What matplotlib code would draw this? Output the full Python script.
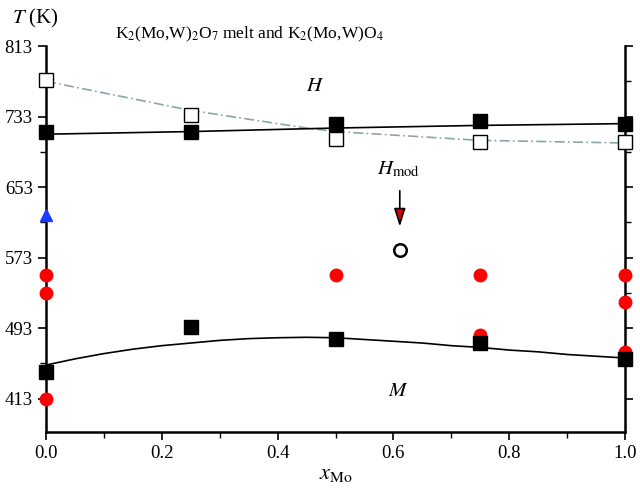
import matplotlib
matplotlib.use("Agg")
import matplotlib.pyplot as plt
from matplotlib.ticker import MultipleLocator, FixedLocator, FormatStrFormatter

plt.rcParams['font.family'] = ['Liberation Serif', 'DejaVu Serif']
plt.rcParams['mathtext.fontset'] = 'stix'

# Data (T in K vs x_Mo)
x_sq = [0.0, 0.25, 0.5, 0.75, 1.0]
H_filled = [715, 715, 725, 728, 725]
H_open = [774, 735, 708, 704, 704]
hline_x = [0.0, 0.25, 0.5, 0.75, 1.0]
hline_T = [713, 716, 720, 723, 725]
dash_x = [0.0, 0.25, 0.45, 0.5, 0.75, 1.0]
dash_T = [773, 740, 720, 716, 706, 703]
M_x = [0.0, 0.25, 0.5, 0.75, 1.0]
M_filled = [443, 494, 480, 476, 458]
low_x = [0.0, 0.05, 0.1, 0.15, 0.2, 0.25, 0.3, 0.35, 0.4, 0.45, 0.5, 0.55, 0.6,
         0.65, 0.7, 0.75, 0.8, 0.85, 0.9, 0.95, 1.0]
low_T = [451, 458, 464, 469, 473, 476, 479, 481, 482, 482.5, 482, 480, 478,
         476, 473, 471, 468, 466, 463, 461, 459]
red_x = [0.0, 0.0, 0.0, 0.5, 0.75, 0.75, 1.0, 1.0, 1.0]
red_T = [553, 533, 413, 553, 553, 485, 553, 523, 466]
blue_x = [0.0]
blue_T = [621]
open_circ_x = [0.611]
open_circ_T = [582]
arrow_x = 0.611
arrow_T = [652, 605]
xticks = [0.0, 0.2, 0.4, 0.6, 0.8, 1.0]
yticks = [413, 493, 573, 653, 733, 813]

fig = plt.figure(figsize=(6.4, 5.01), dpi=100)
ax = fig.add_axes([0.0719, 0.1377, 0.9047, 0.7703])

ax.plot(dash_x, dash_T, linestyle=(0, (6, 2, 1, 2)), color='#8aa5a5', lw=1.2, zorder=2)
ax.plot(hline_x, hline_T, color='black', lw=1.2, zorder=2)
ax.plot(low_x, low_T, color='black', lw=1.2, zorder=2)

ax.plot(x_sq, H_open, 's', ms=10, mfc='white', mec='black', mew=1.0, clip_on=False, zorder=4)
ax.plot(x_sq, H_filled, 's', ms=10, color='black', clip_on=False, zorder=4)
ax.plot(red_x, red_T, 'o', ms=9, color='#ff0000', clip_on=False, zorder=3)
ax.plot(M_x, M_filled, 's', ms=10, color='black', clip_on=False, zorder=4)
ax.plot(blue_x, blue_T, '^', ms=9, color='#1a3cff', clip_on=False, zorder=4)
ax.plot(open_circ_x, open_circ_T, 'o', ms=9, mfc='white', mec='black', mew=1.8, zorder=4)

ax.annotate('', xy=(arrow_x, arrow_T[1]), xytext=(arrow_x, arrow_T[0]),
            arrowprops=dict(arrowstyle='-|>,head_length=1.1,head_width=0.35',
                            color='black', fc='#d40000', lw=1.2))

ax.text(0.465, 767, r'$H$', fontsize=15, ha='center', va='center')
ax.text(0.608, 673, r'$H_{\mathrm{mod}}$', fontsize=15, ha='center', va='center')
ax.text(0.608, 421, r'$M$', fontsize=15, ha='center', va='center')

ax.set_xlim(0, 1)
ax.set_ylim(375, 813)
ax.xaxis.set_major_locator(FixedLocator(xticks))
ax.xaxis.set_minor_locator(MultipleLocator(0.1))
ax.xaxis.set_major_formatter(FormatStrFormatter('%.1f'))
ax.yaxis.set_major_locator(FixedLocator(yticks))
ax.yaxis.set_minor_locator(FixedLocator([453, 533, 613, 693, 773]))
ax.tick_params(axis='both', which='major', labelsize=13.5, direction='out', length=6, width=1.2)
ax.tick_params(axis='both', which='minor', direction='out', length=4, width=1.0)
ax.tick_params(axis='y', right=True, which='both')
ax.spines['top'].set_visible(False)
for s in ['left', 'right', 'bottom']:
    ax.spines[s].set_linewidth(1.8)

ax.set_xlabel(r'$x_{\mathrm{Mo}}$', fontsize=16, labelpad=2)
fig.text(0.018, 0.963, r'$T$ (K)', fontsize=15, ha='left', va='center')
fig.text(0.39, 0.932, r'K$_2$(Mo,W)$_2$O$_7$ melt and K$_2$(Mo,W)O$_4$', fontsize=12.5,
         ha='center', va='center')

fig.savefig('out.png', dpi=100)
